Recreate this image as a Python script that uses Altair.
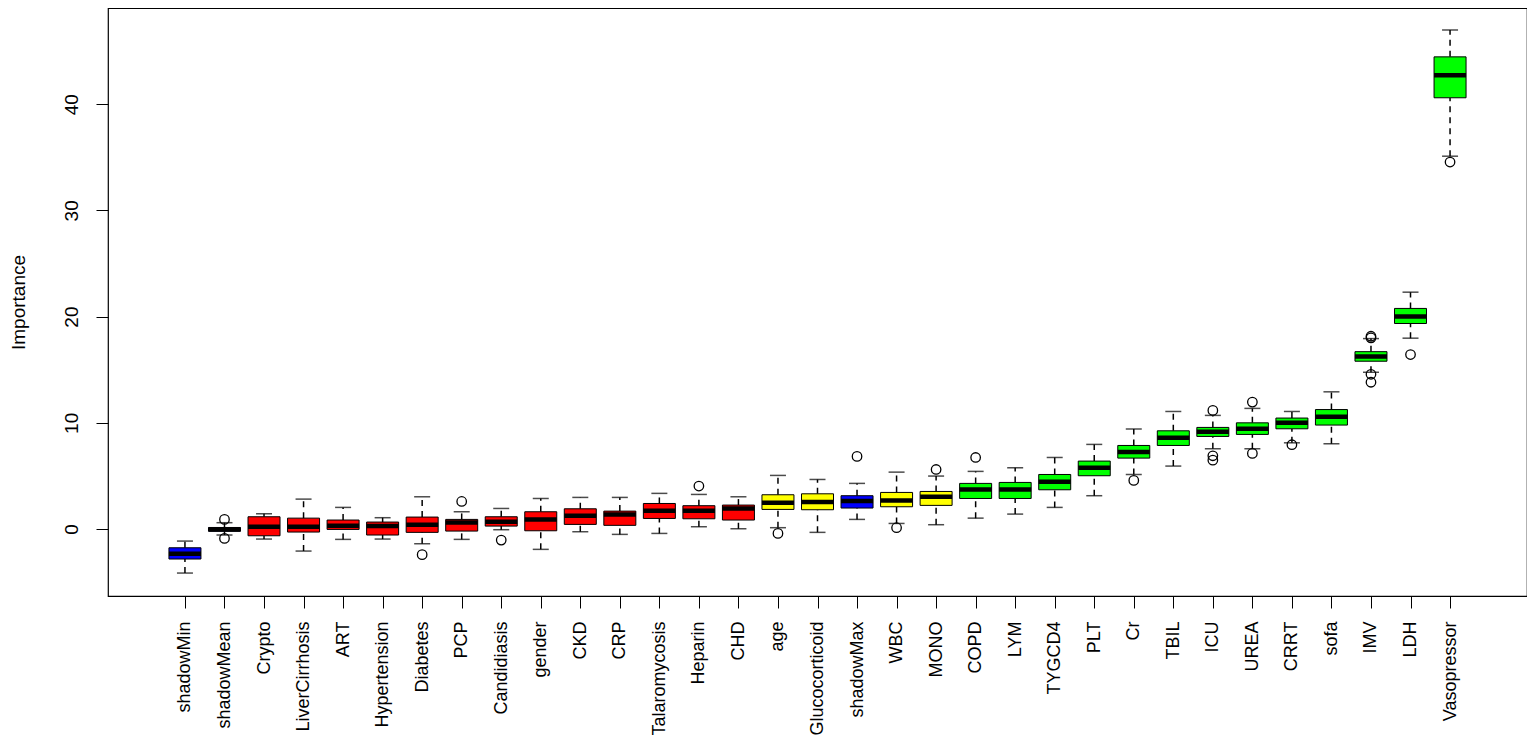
import altair as alt
import pandas as pd

names = ["shadowMin", "shadowMean", "Crypto", "LiverCirrhosis", "ART", "Hypertension",
         "Diabetes", "PCP", "Candidiasis", "gender", "CKD", "CRP", "Talaromycosis",
         "Heparin", "CHD", "age", "Glucocorticoid", "shadowMax", "WBC", "MONO", "COPD",
         "LYM", "TYGCD4", "PLT", "Cr", "TBIL", "ICU", "UREA", "CRRT", "sofa", "IMV",
         "LDH", "Vasopressor"]
decision = ["shadow", "shadow", "Rejected", "Rejected", "Rejected", "Rejected",
            "Rejected", "Rejected", "Rejected", "Rejected", "Rejected", "Rejected", "Rejected",
            "Rejected", "Rejected", "Tentative", "Tentative", "shadow", "Tentative", "Tentative",
            "Confirmed", "Confirmed", "Confirmed", "Confirmed", "Confirmed", "Confirmed",
            "Confirmed", "Confirmed", "Confirmed", "Confirmed", "Confirmed", "Confirmed",
            "Confirmed"]
whisker_lo = [-4.14, -0.56, -0.94, -2.07, -0.97, -0.94, -1.38, -0.97, -0.06, -1.91,
              -0.25, -0.50, -0.41, 0.22, 0.03, 0.13, -0.31, 0.91, 0.53, 0.41,
              1.03, 1.41, 2.04, 3.14, 5.14, 5.93, 7.56, 7.56, 8.12, 8.03, 14.76,
              17.97, 35.10]
q1 = [-2.82, -0.20, -0.63, -0.28, -0.03, -0.56, -0.31, -0.19, 0.28, -0.16,
      0.44, 0.35, 1.00, 0.97, 0.85, 1.85, 1.82, 1.98, 2.10, 2.23,
      2.88, 2.88, 3.70, 5.02, 6.68, 7.87, 8.72, 8.91, 9.44, 9.79, 15.80,
      19.35, 40.60]
median = [-2.32, -0.03, 0.22, 0.22, 0.32, 0.28, 0.41, 0.63, 0.69, 0.91,
          1.25, 1.38, 1.72, 1.72, 1.94, 2.48, 2.54, 2.64, 2.70, 3.04,
          3.73, 3.73, 4.45, 5.77, 7.25, 8.60, 9.16, 9.44, 10.00, 10.57, 16.25,
          20.02, 42.73]
q3 = [-1.76, 0.15, 1.16, 1.03, 0.85, 0.66, 1.13, 0.91, 1.16, 1.63,
      1.91, 1.69, 2.41, 2.20, 2.26, 3.23, 3.32, 3.14, 3.45, 3.54,
      4.30, 4.39, 5.14, 6.40, 7.87, 9.25, 9.57, 10.00, 10.45, 11.25, 16.70,
      20.77, 44.45]
whisker_hi = [-1.13, 0.60, 1.44, 2.82, 2.04, 1.07, 3.04, 1.63, 1.94, 2.88,
              2.98, 2.98, 3.36, 3.26, 3.04, 5.05, 4.67, 4.30, 5.36, 4.99,
              5.43, 5.77, 6.74, 7.97, 9.41, 11.07, 10.70, 11.36, 11.07, 12.92, 17.93,
              22.30, 46.98]
outlier_names = ["shadowMean", "shadowMean", "Diabetes", "PCP", "Candidiasis", "Heparin",
                 "age", "shadowMax", "WBC", "MONO", "COPD", "Cr", "ICU", "ICU", "ICU",
                 "UREA", "UREA", "CRRT", "IMV", "IMV", "IMV", "IMV", "LDH", "Vasopressor"]
outlier_values = [0.91, -0.88, -2.41, 2.60, -1.04, 4.05,
                  -0.41, 6.84, 0.13, 5.61, 6.74, 4.58, 11.17, 6.90, 6.49,
                  11.95, 7.12, 7.94, 18.00, 18.15, 14.57, 13.82, 16.43, 34.55]

color_domain = ["shadow", "Rejected", "Tentative", "Confirmed"]
color_range = ["#0000FF", "#FF0000", "#FFFF00", "#00FF00"]

pos = list(range(1, len(names) + 1))
df = pd.DataFrame({"name": names, "pos": pos, "decision": decision,
                   "lo": whisker_lo, "q1": q1, "med": median, "q3": q3, "hi": whisker_hi})
out_df = pd.DataFrame({"name": outlier_names, "value": outlier_values})
out_df["pos"] = out_df["name"].map({n: i + 1 for i, n in enumerate(names)})

W, H = 1419, 588
FS = 19
XFS = 18
label_expr = "[" + ",".join("'" + n + "'" for n in names) + "][datum.value - 1]"

xscale = alt.Scale(domain=[-0.82, 34.82], nice=False, zero=False)
yscale = alt.Scale(domain=[-6.3, 49.05], nice=False, zero=False)

x_enc = alt.X("pos:Q", scale=xscale, title=None,
              axis=alt.Axis(values=pos, labelExpr=label_expr, labelAngle=270,
                            labelAlign="right", labelBaseline="middle",
                            labelPadding=13, tickSize=12, grid=False, domain=False,
                            labelFontSize=XFS, labelFont="Liberation Sans",
                            labelColor="black", tickColor="black", labelOverlap=False))
y_enc = alt.Y("q1:Q", scale=yscale, title="Importance",
              axis=alt.Axis(values=[0, 10, 20, 30, 40], labelAngle=270, labelAlign="center",
                            labelBaseline="bottom", labelPadding=15, tickSize=12,
                            grid=False, domain=False, labelFontSize=FS,
                            labelFont="Liberation Sans", labelColor="black",
                            tickColor="black", titleFontSize=FS, titleFontWeight="normal",
                            titleFont="Liberation Sans", titleColor="black",
                            titleX=-80, titleY=H / 2))

base = alt.Chart(df)

lower = base.mark_rule(color="black", strokeWidth=1.5, strokeDash=[6, 5]).encode(
    x=x_enc, y=alt.Y("lo:Q", scale=yscale), y2="q1:Q")
upper = base.mark_rule(color="black", strokeWidth=1.5, strokeDash=[6, 5]).encode(
    x="pos:Q", y=alt.Y("q3:Q", scale=yscale), y2="hi:Q")
cap_lo = base.mark_tick(orient="horizontal", size=16, thickness=1.5, color="black").encode(
    x="pos:Q", y=alt.Y("lo:Q", scale=yscale))
cap_hi = base.mark_tick(orient="horizontal", size=16, thickness=1.5, color="black").encode(
    x="pos:Q", y=alt.Y("hi:Q", scale=yscale))
box = base.mark_bar(size=32, stroke="black", strokeWidth=1, opacity=1).encode(
    x="pos:Q", y=y_enc, y2="q3:Q",
    color=alt.Color("decision:N", scale=alt.Scale(domain=color_domain, range=color_range),
                    legend=None))
med = base.mark_tick(orient="horizontal", size=32, thickness=4.5, color="black",
                     opacity=1).encode(
    x="pos:Q", y=alt.Y("med:Q", scale=yscale))
outl = alt.Chart(out_df).mark_point(shape="circle", filled=False, size=90,
                                    stroke="black", strokeWidth=1.3, opacity=1).encode(
    x="pos:Q", y=alt.Y("value:Q", scale=yscale))

chart = alt.layer(lower, upper, cap_lo, cap_hi, box, med, outl).properties(
    width=W, height=H,
    autosize=alt.AutoSizeParams(type="none"),
    padding={"left": 100, "top": 0, "right": 0, "bottom": 146},
    background="white",
).configure_view(stroke="black", strokeWidth=1.2)

chart.save("out.html", embed_options={"renderer": "svg", "actions": False})
